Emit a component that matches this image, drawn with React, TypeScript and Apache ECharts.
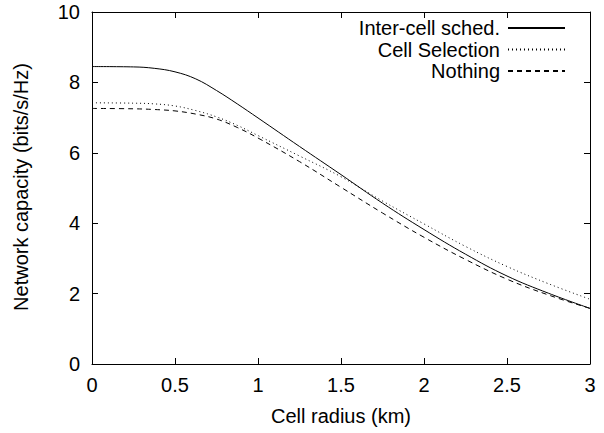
import React, { useEffect, useRef } from "react";
import * as echarts from "echarts";

const radius = [0, 0.25, 0.375, 0.5, 0.625, 0.75, 0.875, 1.0, 1.25, 1.5, 1.75, 2.0, 2.25, 2.5, 2.75, 3.0];
const interCell = [8.45, 8.44, 8.4, 8.3, 8.1, 7.77, 7.39, 6.99, 6.18, 5.38, 4.57, 3.82, 3.12, 2.5, 2.01, 1.58];
const cellSelection = [7.42, 7.41, 7.39, 7.33, 7.2, 7.02, 6.78, 6.49, 5.91, 5.32, 4.63, 3.98, 3.34, 2.77, 2.28, 1.84];
const nothing = [7.26, 7.25, 7.23, 7.19, 7.1, 6.96, 6.72, 6.42, 5.75, 5.02, 4.29, 3.6, 2.97, 2.41, 1.96, 1.58];

const seriesNames = ["Inter-cell sched.", "Cell Selection", "Nothing"];
const xTitle = "Cell radius (km)";
const yTitle = "Network capacity (bits/s/Hz)";

const FONT = "Liberation Sans";

export default function App() {
  const ref = useRef<HTMLDivElement>(null);
  useEffect(() => {
    if (!ref.current) return;
    const chart = echarts.init(ref.current, null, { renderer: "svg" });
    const pair = (ys: number[]) => radius.map((x, i) => [x, ys[i]]);
    const tick = { show: true, inside: true, length: 6, lineStyle: { color: "#000", width: 1 } };
    const axisLine = { show: true, onZero: false, lineStyle: { color: "#000", width: 1 } };
    const labelStyle = { color: "#000", fontFamily: FONT, fontSize: 20 };
    const mkLine = (name: string, ys: number[], type: any) => ({
      name,
      type: "line",
      data: pair(ys),
      smooth: 0.4,
      symbol: "none",
      showSymbol: false,
      lineStyle: { color: "#000", width: 1, type },
      itemStyle: { color: "#000" },
      xAxisIndex: 0,
      yAxisIndex: 0,
    });
    chart.setOption({
      animation: false,
      backgroundColor: "#fff",
      grid: { left: 92, right: 14, top: 12, bottom: 69, containLabel: false },
      xAxis: [
        {
          type: "value",
          min: 0,
          max: 3,
          interval: 0.5,
          position: "bottom",
          axisLine,
          axisTick: tick,
          splitLine: { show: false },
          axisLabel: { ...labelStyle, margin: 11 },
        },
        {
          type: "value",
          min: 0,
          max: 3,
          interval: 0.5,
          position: "top",
          axisLine,
          axisTick: tick,
          splitLine: { show: false },
          axisLabel: { show: false },
        },
      ],
      yAxis: [
        {
          type: "value",
          min: 0,
          max: 10,
          interval: 2,
          position: "left",
          axisLine,
          axisTick: tick,
          splitLine: { show: false },
          axisLabel: { ...labelStyle, margin: 12 },
        },
        {
          type: "value",
          min: 0,
          max: 10,
          interval: 2,
          position: "right",
          axisLine,
          axisTick: tick,
          splitLine: { show: false },
          axisLabel: { show: false },
        },
      ],
      legend: {
        orient: "vertical",
        align: "right",
        right: 38,
        top: 18,
        padding: 0,
        itemWidth: 57,
        itemHeight: 14,
        itemGap: 1.5,
        selectedMode: false,
        itemStyle: { opacity: 0, borderWidth: 0 },
        textStyle: { color: "#000", fontFamily: FONT, fontSize: 20, lineHeight: 20, padding: [0, 3, 0, 0] },
        data: seriesNames,
      },
      graphic: [
        {
          type: "text",
          x: 341,
          y: 416,
          style: {
            text: xTitle,
            fill: "#000",
            font: `20px "${FONT}"`,
            align: "center",
            verticalAlign: "middle",
          },
        },
        {
          type: "text",
          x: 21,
          y: 187,
          rotation: Math.PI / 2,
          style: {
            text: yTitle,
            fill: "#000",
            font: `20px "${FONT}"`,
            align: "center",
            verticalAlign: "middle",
          },
        },
      ],
      series: [
        mkLine(seriesNames[0], interCell, "solid"),
        mkLine(seriesNames[1], cellSelection, [1, 3]),
        mkLine(seriesNames[2], nothing, [5, 4]),
      ],
    });
    return () => chart.dispose();
  }, []);
  return <div ref={ref} style={{ width: 604, height: 433, position: "absolute", left: 0, top: 0 }} />;
}
